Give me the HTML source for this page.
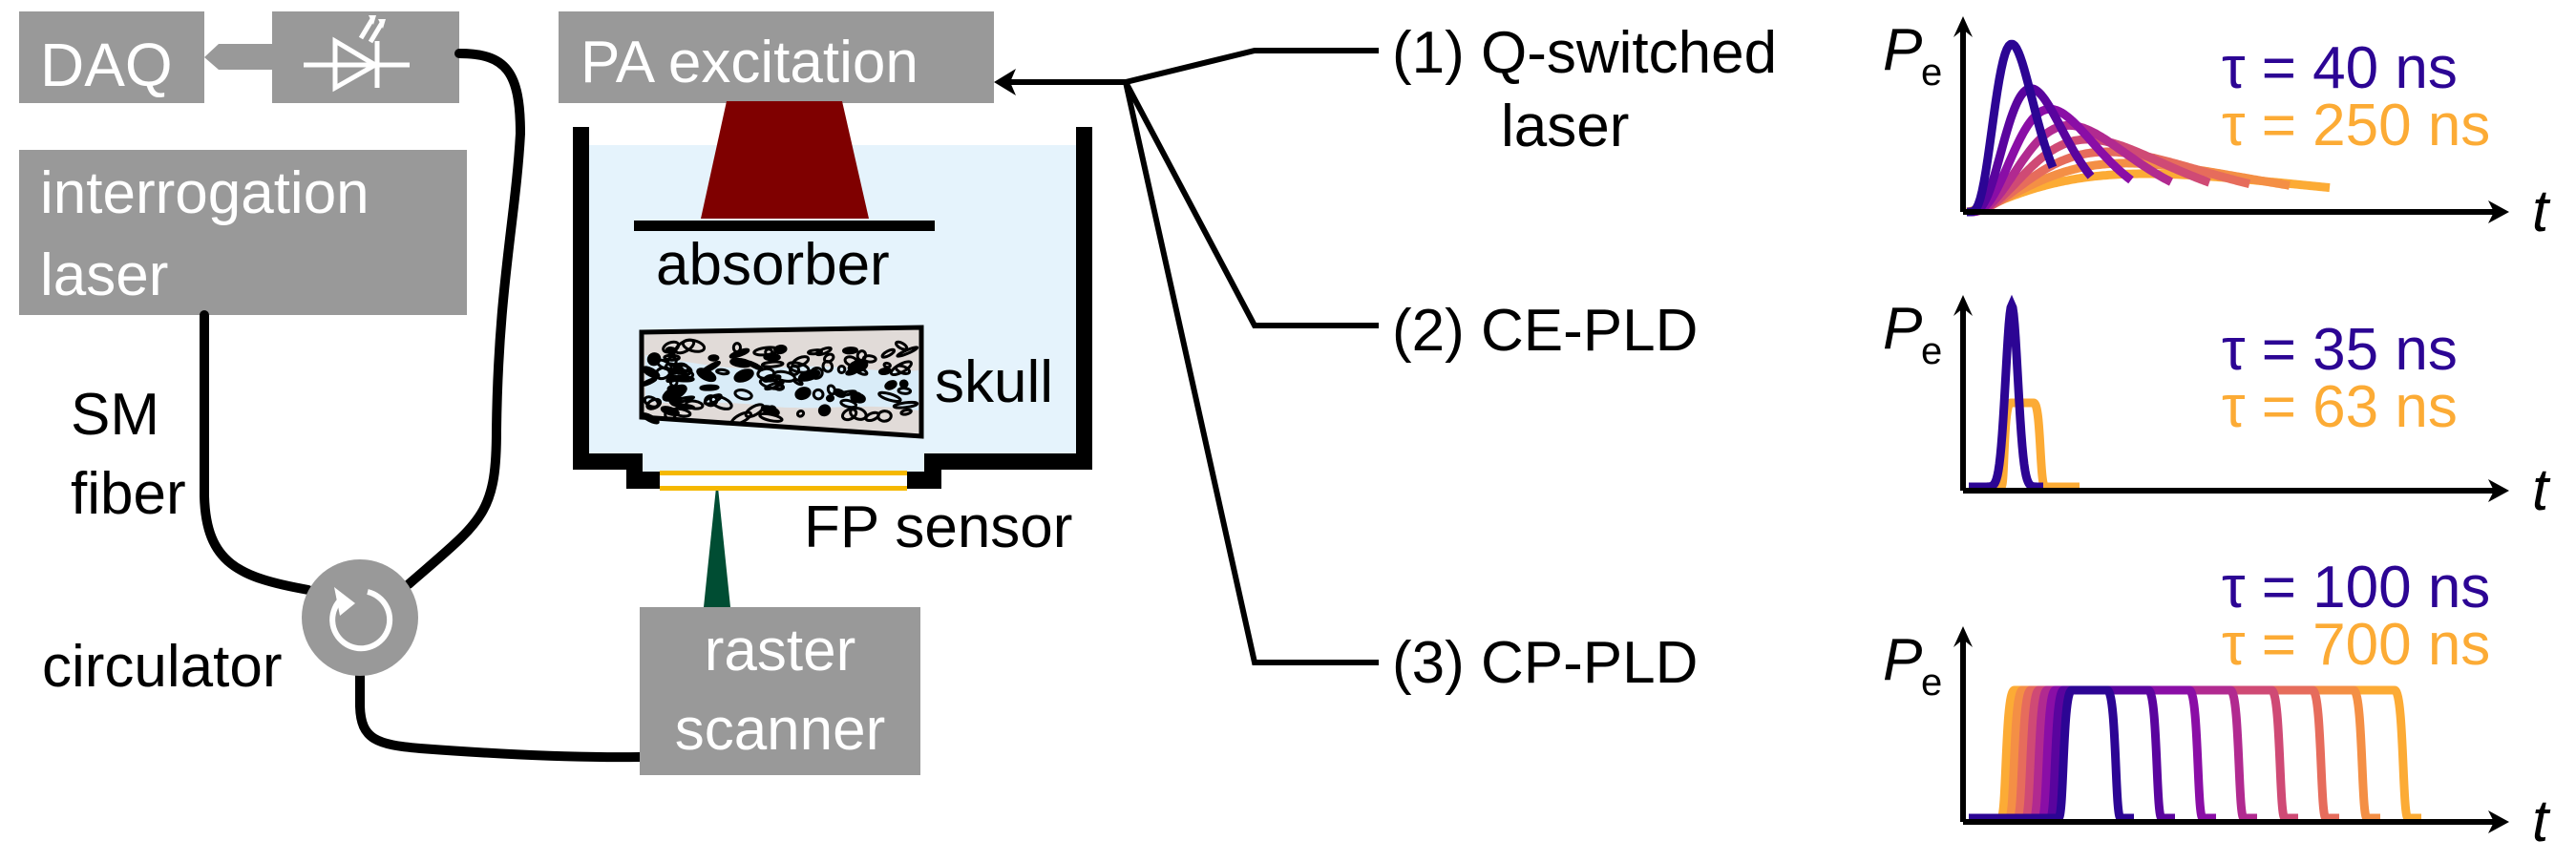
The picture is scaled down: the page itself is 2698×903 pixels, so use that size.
<!DOCTYPE html>
<html><head><meta charset="utf-8">
<style>
html,body{margin:0;padding:0;background:#fff;}
body{width:2698px;height:898px;overflow:hidden;}
text{font-family:"Liberation Sans",Arial,sans-serif;}
</style></head>
<body>
<svg id="s" width="2698" height="898" viewBox="0 0 2698 898" xmlns="http://www.w3.org/2000/svg">
<rect x="20" y="12" width="194" height="96" fill="#999"/>
<text x="42" y="90" font-size="64" fill="#fff">DAQ</text>
<polygon points="285,46 229,46 214,60 229,73 285,73" fill="#999"/>
<rect x="285" y="12" width="196" height="96" fill="#999"/>
<g stroke="#fff" stroke-width="5" fill="none">
<line x1="318" y1="68" x2="429" y2="68"/>
<polygon points="351,43 351,92 393,68"/>
<line x1="395" y1="43" x2="395" y2="92"/>
<line x1="378" y1="40" x2="390" y2="20"/>
<line x1="388" y1="44" x2="400" y2="24"/>
</g>
<polygon points="386,16 394,16 391,26" fill="#fff"/>
<polygon points="396,20 404,20 401,30" fill="#fff"/>

<rect x="585" y="12" width="456" height="96" fill="#999"/>
<text x="608" y="86" font-size="62" fill="#fff">PA excitation</text>

<rect x="20" y="157" width="469" height="173" fill="#999"/>
<text x="42" y="223" font-size="62" fill="#fff">interrogation</text>
<text x="42" y="309" font-size="62" fill="#fff">laser</text>

<g stroke="#000" stroke-width="10" fill="none" stroke-linecap="round">
<path d="M214,330 L214,520 C216,590 250,605 323,618"/>
<path d="M481,56 C530,56 545,75 545,140 C540,230 522,300 520,450 C520,540 505,545 428,612"/>
<path d="M377,705 L377,740 C378,775 395,780 440,784 C520,790 600,794 670,793"/>
</g>
<circle cx="377" cy="647" r="61" fill="#999"/>
<path d="M358,627 A30,30 0 1 0 385,620" stroke="#fff" stroke-width="6" fill="none"/>
<polygon points="350,615 372,632 356,645" fill="#fff"/>

<text x="74" y="455" font-size="62">SM</text>
<text x="74" y="538" font-size="62">fiber</text>
<text x="44" y="719" font-size="62">circulator</text>

<rect x="670" y="636" width="294" height="176" fill="#999"/>
<text x="817" y="702" font-size="62" fill="#fff" text-anchor="middle">raster</text>
<text x="817" y="785" font-size="62" fill="#fff" text-anchor="middle">scanner</text>
<polygon points="751,501 737,636 765,636" fill="#004d33"/>

<rect x="617" y="152" width="510" height="323" fill="#e5f3fc"/>
<rect x="673" y="470" width="295" height="25" fill="#e5f3fc"/>
<path d="M600,133 L617,133 L617,475 L673,475 L673,494 L691,494 L691,512 L656,512 L656,492 L600,492 Z" fill="#000"/>
<path d="M1144,133 L1127,133 L1127,475 L968,475 L968,494 L950,494 L950,512 L986,512 L986,492 L1144,492 Z" fill="#000"/>
<rect x="691" y="494" width="259" height="18" fill="#fff"/>
<rect x="691" y="493" width="259" height="5" fill="#f5b800"/>
<rect x="691" y="509" width="259" height="5" fill="#f5b800"/>
<polygon points="761,106 882,106 910,229 734,229" fill="#7f0000"/>
<rect x="664" y="231" width="315" height="11" fill="#000"/>
<text x="687" y="298" font-size="62">absorber</text>
<g id="skull">
<path d="M672,348 L965,343 L965,457 L672,437 Z" fill="#e1dbd8" stroke="#000" stroke-width="5"/>
</g>
<text x="979" y="421" font-size="62">skull</text>
<text x="842" y="573" font-size="62">FP sensor</text>

<g stroke="#000" stroke-width="6" fill="none">
<path d="M1050,86 L1179,86 L1314,53 L1444,53"/>
<path d="M1179,86 L1314,341 L1444,341"/>
<path d="M1179,86 L1314,694 L1444,694"/>
</g>
<polygon points="1041,86 1064,72 1058,86 1064,100" fill="#000"/>
<text x="1458" y="76" font-size="62">(1) Q-switched</text>
<text x="1572" y="153" font-size="62">laser</text>
<text x="1458" y="367" font-size="62">(2) CE-PLD</text>
<text x="1458" y="715" font-size="62">(3) CP-PLD</text>

<g id="plots"></g>
<g font-size="62">
<text x="2327" y="92" fill="#2c0594">τ = 40 ns</text>
<text x="2327" y="152" fill="#fcab35">τ = 250 ns</text>
<text x="2327" y="387" fill="#2c0594">τ = 35 ns</text>
<text x="2327" y="447" fill="#fcab35">τ = 63 ns</text>
<text x="2327" y="636" fill="#2c0594">τ = 100 ns</text>
<text x="2327" y="696" fill="#fcab35">τ = 700 ns</text>
</g>
</svg>
<script>
var NS="http://www.w3.org/2000/svg";
function el(p,t,a){var e=document.createElementNS(NS,t);for(var k in a)e.setAttribute(k,a[k]);p.appendChild(e);return e;}
var cols=["#2c0594","#5a049e","#8a0ea6","#b12a90","#cf4a75","#e66c5c","#f48f45","#fcab35"];
var P=document.getElementById("plots");
function axes(top,base){
 el(P,"line",{x1:2056,y1:top+8,x2:2056,y2:base,stroke:"#000","stroke-width":6});
 el(P,"polygon",{points:"2056,"+top+" 2046,"+(top+22)+" 2056,"+(top+14)+" 2066,"+(top+22),fill:"#000"});
 el(P,"line",{x1:2056,y1:base,x2:2618,y2:base,stroke:"#000","stroke-width":6});
 el(P,"polygon",{points:"2628,"+base+" 2606,"+(base-12)+" 2612,"+base+" 2606,"+(base+12),fill:"#000"});
 var t=el(P,"text",{x:2652,y:base+20,"font-size":62,"font-style":"italic"});t.textContent="t";
 var p=el(P,"text",{x:1972,y:top+56,"font-size":62,"font-style":"italic"});p.textContent="P";
 var e=el(P,"text",{x:2012,y:top+72,"font-size":40});e.textContent="e";
}
(function(){var base=222;
for(var k=7;k>=0;k--){var s=k/7;var p=47+140*s,h=176-136*Math.pow(s,0.55),n=5-3.6*s,end=2150+290*s;
 var d="";for(var x=2060;x<=end;x+=2){var u=(x-2060)/p;var y=h*Math.pow(u*Math.exp(1-u),n);d+=(d?"L":"M")+x+","+(base-y).toFixed(1);}
 el(P,"path",{d:d,stroke:cols[k],"stroke-width":9,fill:"none","stroke-linejoin":"round"});}
})();
axes(17,222);
(function(){var base=514;
var d="M2062,"+(base-4);for(var x=2062;x<=2140;x+=1){var y=190*Math.exp(-Math.pow((x-2107)/9,2));d+="L"+x+","+(base-4-y).toFixed(1);}
var o="M2062,"+(base-4)+"L2096,"+(base-4)+"C2100,"+(base-4)+" 2098,422 2106,422 L2130,422 C2138,422 2136,"+(base-4)+" 2142,"+(base-4)+" L2178,"+(base-4);
el(P,"path",{d:o,stroke:cols[7],"stroke-width":9,fill:"none"});
el(P,"path",{d:d,stroke:cols[0],"stroke-width":9,fill:"none"});
})();
axes(309,514);
(function(){var base=857,top=723;
for(var k=7;k>=0;k--){var r=2164-k*8.6,f=2215+k*43;
 var d="M2062,"+base+"L"+(r-8)+","+base+"C"+(r-2)+","+base+" "+(r-4)+","+top+" "+(r+6)+","+top+"L"+(f-8)+","+top+"C"+(f+2)+","+top+" "+f+","+base+" "+(f+6)+","+base+"L"+(f+20)+","+base;
 el(P,"path",{d:d,stroke:cols[k],"stroke-width":9,fill:"none"});}
})();
axes(656,861);
(function(){var g=document.getElementById("skull");var seed=7;function r(){seed=(seed*9301+49297)%233280;return seed/233280;}
el(g,"path",{d:"M676,372 C720,378 760,390 820,385 C880,380 920,392 962,388 L962,430 C900,420 860,432 800,425 C740,418 710,425 676,420 Z",fill:"#d9ecf8",stroke:"none"});
for(var i=0;i<110;i++){var x=680+r()*278,y=362+r()*78,w=3+r()*10,h=1.5+r()*4;
 el(g,"ellipse",{cx:x.toFixed(1),cy:y.toFixed(1),rx:w.toFixed(1),ry:h.toFixed(1),fill:r()<0.3?"#000":"none",stroke:"#000","stroke-width":3,transform:"rotate("+(r()*60-30).toFixed(0)+" "+x.toFixed(1)+" "+y.toFixed(1)+")"});}
})();
</script>
</body></html>
